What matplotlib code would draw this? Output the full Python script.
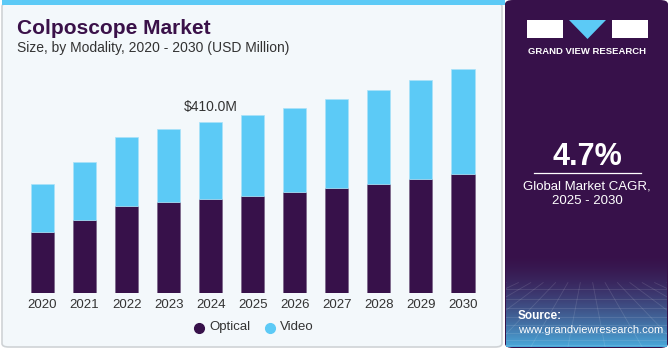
import numpy as np
import matplotlib.pyplot as plt
from matplotlib.patches import FancyBboxPatch, Rectangle, Polygon

plt.rcParams['font.family'] = ['Liberation Sans', 'DejaVu Sans']

# data (USD Million)
years = ['2020', '2021', '2022', '2023', '2024', '2025', '2026', '2027', '2028', '2029', '2030']
optical = [146.5, 174.6, 208.3, 218.6, 225.0, 233.0, 242.6, 252.2, 262.5, 274.6, 286.6]
video = [116.0, 139.4, 165.7, 176.1, 185.0, 193.8, 201.8, 213.1, 224.4, 236.3, 250.7]
label_year = 4
label_text = '$410.0M'

W, H = 671, 350
purple = '#37114A'
blue = '#5CCAF6'
fig = plt.figure(figsize=(W / 100, H / 100), dpi=100)
fig.patch.set_facecolor('white')


def fx(x):
    return x / W


def fy(y):
    return 1 - y / H


# left card background
fig.patches.append(FancyBboxPatch((fx(2), fy(347)), fx(500), fy(3) - fy(347),
                                  boxstyle='round,pad=0,rounding_size=0.01',
                                  transform=fig.transFigure, facecolor='#F3F8FB',
                                  edgecolor='#CFD3D6', linewidth=1.2, zorder=0))
fig.patches.append(Rectangle((fx(2), fy(5)), fx(503), fy(0) - fy(5),
                             transform=fig.transFigure, facecolor=blue,
                             edgecolor='none', zorder=1))

# right panel
fig.patches.append(FancyBboxPatch((fx(505), fy(348)), fx(163), fy(0) - fy(348),
                                  boxstyle='round,pad=0,rounding_size=0.012',
                                  transform=fig.transFigure, facecolor=purple,
                                  edgecolor='none', zorder=1))
# gradient at the bottom of the panel
gax = fig.add_axes([fx(506), fy(347), fx(161), fy(255) - fy(347)])
gax.set_zorder(2)
grad = np.linspace(0, 1, 100).reshape(-1, 1)
top_c = np.array([0x37, 0x11, 0x4A]) / 255
bot_c = np.array([0x4A, 0xA8, 0xDA]) / 255
img = top_c[None, None, :] * (1 - grad[:, :, None] ** 1.6) + bot_c[None, None, :] * grad[:, :, None] ** 1.6
gax.imshow(img, aspect='auto', extent=(0, 1, 0, 1), origin='upper')
for k in np.linspace(0, 1, 14):
    gax.plot([k, 0.5 + (k - 0.5) * 3], [0.7, 0], color='white', alpha=0.12, lw=0.6)
for k in np.linspace(0.05, 0.7, 8):
    gax.axhline(k ** 1.3, color='white', alpha=0.12, lw=0.6)
gax.set_xlim(0, 1)
gax.set_ylim(0, 1)
gax.axis('off')

# logo
fig.patches.append(Rectangle((fx(527), fy(38)), fx(36), fy(20) - fy(38),
                             transform=fig.transFigure, facecolor='white', edgecolor='none', zorder=3))
fig.patches.append(Rectangle((fx(612), fy(38)), fx(36), fy(20) - fy(38),
                             transform=fig.transFigure, facecolor='white', edgecolor='none', zorder=3))
fig.patches.append(Polygon([(fx(569), fy(20)), (fx(606), fy(20)), (fx(587.5), fy(39))],
                           closed=True, transform=fig.transFigure, facecolor=blue,
                           edgecolor='none', zorder=3))
fig.text(fx(587.5), fy(51), 'GRAND VIEW RESEARCH', color='white', fontsize=6.8,
         fontweight='bold', ha='center', va='center')

fig.text(fx(587), fy(157), '4.7%', color='white', fontsize=22, fontweight='bold',
         ha='center', va='center')
fig.lines.append(plt.Line2D([fx(534), fx(641)], [fy(173), fy(173)], color='white',
                            lw=0.9, transform=fig.transFigure))
fig.text(fx(587), fy(186), 'Global Market CAGR,', color='white', fontsize=9.5,
         ha='center', va='center')
fig.text(fx(587), fy(201), '2025 - 2030', color='white', fontsize=9.5,
         ha='center', va='center')
fig.text(fx(518), fy(316), 'Source:', color='white', fontsize=8.5, fontweight='bold',
         ha='left', va='center', zorder=5)
fig.text(fx(518), fy(330), 'www.grandviewresearch.com', color='white', fontsize=8,
         ha='left', va='center', zorder=5)

# titles
fig.text(fx(17), fy(29), 'Colposcope Market', color='#3A1149', fontsize=15,
         fontweight='bold', ha='left', va='center')
fig.text(fx(17), fy(48), 'Size, by Modality, 2020 - 2030 (USD Million)', color='#333333',
         fontsize=10, ha='left', va='center')

# bars
ax = fig.add_axes([fx(21.5), fy(293), fx(462.5), fy(43.2) - fy(293)])
ax.set_zorder(5)
ax.set_facecolor('none')
x = np.arange(len(years))
ax.bar(x, optical, width=0.55, color='#37114A', edgecolor='#7A6487', linewidth=0.5,
       label='Optical', zorder=2)
ax.bar(x, video, bottom=optical, width=0.55, color=blue, edgecolor='#A9E2F8',
       linewidth=0.5, label='Video', zorder=2)
ax.set_xlim(-0.5, len(years) - 0.5)
ax.set_ylim(0, 600)
ax.set_xticks(x)
ax.set_xticklabels(years, fontsize=9.5, color='#333333')
ax.tick_params(axis='x', length=0, pad=4)
ax.set_yticks([])
for s in ax.spines.values():
    s.set_visible(False)

tot = optical[label_year] + video[label_year]
ax.annotate(label_text, (label_year, tot), xytext=(0, 6), textcoords='offset points',
            ha='center', va='bottom', fontsize=10, color='#333333')

# legend
for cx, col, name in [(199, '#37114A', 'Optical'), (270, blue, 'Video')]:
    fig.lines.append(plt.Line2D([fx(cx)], [fy(328)], marker='o', markersize=7,
                                color=col, linestyle='none', transform=fig.transFigure))
    fig.text(fx(cx + 10), fy(327), name, fontsize=9.5, color='#333333', ha='left', va='center')

fig.savefig('out.png', dpi=100)
